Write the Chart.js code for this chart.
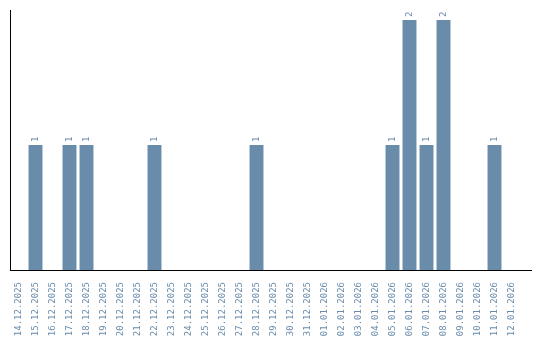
<!DOCTYPE html>
<html>
<head>
<meta charset="utf-8">
<script src="https://cdn.jsdelivr.net/npm/chart.js@4/dist/chart.umd.min.js"></script>
<style>
  html, body { margin: 0; padding: 0; background: #fff; }
  #wrap { width: 540px; height: 340px; }
</style>
</head>
<body>
<div id="wrap"><canvas id="c"></canvas></div>
<script>
const dates = [
  '14.12.2025', '15.12.2025', '16.12.2025', '17.12.2025', '18.12.2025',
  '19.12.2025', '20.12.2025', '21.12.2025', '22.12.2025', '23.12.2025',
  '24.12.2025', '25.12.2025', '26.12.2025', '27.12.2025', '28.12.2025',
  '29.12.2025', '30.12.2025', '31.12.2025', '01.01.2026', '02.01.2026',
  '03.01.2026', '04.01.2026', '05.01.2026', '06.01.2026', '07.01.2026',
  '08.01.2026', '09.01.2026', '10.01.2026', '11.01.2026', '12.01.2026',
];
const counts = [
  0, 1, 0, 1, 1,
  0, 0, 0, 1, 0,
  0, 0, 0, 0, 1,
  0, 0, 0, 0, 0,
  0, 0, 1, 2, 1,
  2, 0, 0, 1, 0,
];

const BAR_COLOR = '#6a8cab';
const FONT = '"DejaVu Sans Mono", monospace';

// value labels, rotated, just above each bar
const valueLabels = {
  id: 'valueLabels',
  afterDatasetsDraw(chart) {
    const ctx = chart.ctx;
    const meta = chart.getDatasetMeta(0);
    ctx.save();
    ctx.fillStyle = BAR_COLOR;
    ctx.font = '9px ' + FONT;
    ctx.textAlign = 'left';
    ctx.textBaseline = 'middle';
    meta.data.forEach((bar, i) => {
      const v = counts[i];
      if (!v) return;
      ctx.save();
      ctx.translate(bar.x, bar.y - 3);
      ctx.rotate(-Math.PI / 2);
      ctx.fillText(String(v), 0, 0);
      ctx.restore();
    });
    ctx.restore();
  },
};

// bottom axis line runs a little past the last category
const axisExtend = {
  id: 'axisExtend',
  afterDraw(chart) {
    const { ctx, chartArea } = chart;
    ctx.save();
    ctx.strokeStyle = '#000';
    ctx.lineWidth = 1;
    ctx.beginPath();
    ctx.moveTo(chartArea.left, chartArea.bottom + 0.5);
    ctx.lineTo(chartArea.right + 12, chartArea.bottom + 0.5);
    ctx.stroke();
    ctx.restore();
  },
};

new Chart(document.getElementById('c'), {
  type: 'bar',
  data: {
    labels: dates,
    datasets: [{
      data: counts,
      backgroundColor: BAR_COLOR,
      borderWidth: 0,
      barPercentage: 0.82,
      categoryPercentage: 1,
    }],
  },
  options: {
    responsive: true,
    maintainAspectRatio: false,
    animation: false,
    layout: { padding: { left: 10, top: 10, right: 20, bottom: 0 } },
    plugins: {
      legend: { display: false },
      tooltip: { enabled: false },
    },
    scales: {
      x: {
        afterFit(scale) { scale.height = 70; },
        grid: { display: false, drawTicks: false },
        border: { display: false },
        ticks: {
          autoSkip: false,
          minRotation: 90,
          maxRotation: 90,
          padding: 12,
          color: BAR_COLOR,
          font: { family: FONT, size: 9 },
        },
      },
      y: {
        min: 0,
        max: 2.08,
        grid: { display: false, drawTicks: false },
        border: { display: true, color: '#000', width: 1 },
        ticks: { display: false },
      },
    },
  },
  plugins: [valueLabels, axisExtend],
});
</script>
</body>
</html>
